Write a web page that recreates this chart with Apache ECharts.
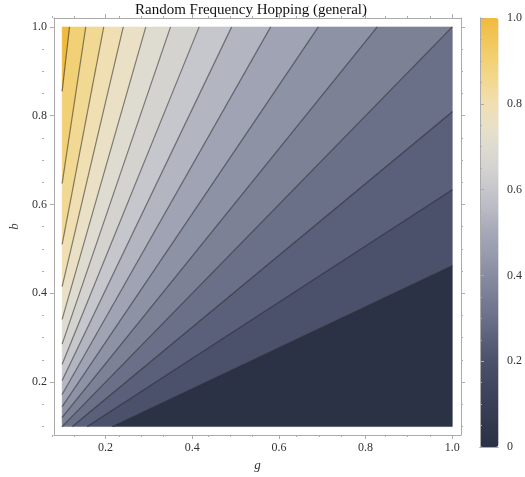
<!DOCTYPE html>
<html>
<head>
<meta charset="utf-8">
<script src="https://cdn.jsdelivr.net/npm/echarts@6/dist/echarts.min.js"></script>
<style>
  html, body { margin: 0; padding: 0; background: #fff; }
  #chart { width: 525px; height: 477px; }
</style>
</head>
<body>
<div id="chart"></div>
<script>
// contour lines are rays from the origin, read where they leave the plot
const contourTopG = [0.117, 0.1545, 0.196, 0.241, 0.293, 0.350, 0.416, 0.491, 0.581, 0.691, 0.827, 1.0]; // meet b = 1
const contourRightB = [0.809, 0.633, 0.462]; // meet g = 1
// shade value of each band, bottom (dark) to top-left (gold)
const bandLevels = [0, 0.2, 0.25, 0.3, 0.36, 0.42, 0.48, 0.54, 0.6, 0.65, 0.7, 0.75, 0.8, 0.85, 0.9, 1.0];

const axisMajor = [0.2, 0.4, 0.6, 0.8, 1.0];
const axisMinor = [0.1, 0.15, 0.25, 0.3, 0.35, 0.45, 0.5, 0.55, 0.65, 0.7, 0.75, 0.85, 0.9, 0.95];
const barMajor = [0, 0.2, 0.4, 0.6, 0.8, 1.0];
const barMinor = [0.05, 0.1, 0.15, 0.25, 0.3, 0.35, 0.45, 0.5, 0.55, 0.65, 0.7, 0.75, 0.85, 0.9, 0.95];

const gradient = [
    '#2c3245', '#32384c', '#393f55', '#42485f', '#4b516a', '#5a6079', '#6a7088',
    '#797e94', '#888ca0', '#979bac', '#a5a8b7', '#b7b9c3', '#c6c7cc', '#d4d3d0',
    '#dedbd0', '#e9e0c6', '#efdfb2', '#f2d993', '#f2d176', '#f1c65a', '#efbb3e'
];

const FONT = 'Liberation Serif';
const FRAME = '#ababab';
const plotMin = 0.081, plotMax = 1.020;
const PLOT = { left: 44, top: 18, width: 417, height: 417 };
const BAR = { left: 480, top: 18, width: 18.5, height: 429 };

// slopes b/g, ascending
const slopes = contourRightB.slice().sort((a, b) => a - b)
    .concat(contourTopG.map(g => 1 / g).sort((a, b) => a - b));

const bands = bandLevels.map((lv, k) => [
    k,
    k === 0 ? 0 : slopes[k - 1],
    k === slopes.length ? 1e6 : slopes[k],
    lv
]);

const contourLines = slopes.map(s => ({
    coords: s >= 1 ? [[0.1, 0.1 * s], [1 / s, 1]] : [[0.1 / s, 0.1], [1, s]]
}));

// keep the part of poly where f >= 0
function clip(poly, f) {
    const out = [];
    for (let i = 0; i < poly.length; i++) {
        const cur = poly[i], prev = poly[(i + poly.length - 1) % poly.length];
        const fc = f(cur), fp = f(prev);
        const cross = () => {
            const t = fp / (fp - fc);
            return [prev[0] + (cur[0] - prev[0]) * t, prev[1] + (cur[1] - prev[1]) * t];
        };
        if (fc >= 0) {
            if (fp < 0) out.push(cross());
            out.push(cur);
        } else if (fp >= 0) {
            out.push(cross());
        }
    }
    return out;
}

function renderBand(params, api) {
    const lo = api.value(1), hi = api.value(2);
    let poly = [[0.1, 0.1], [1, 0.1], [1, 1], [0.1, 1]];
    poly = clip(poly, p => p[1] - lo * p[0]);
    poly = clip(poly, p => hi * p[0] - p[1]);
    if (poly.length < 3) return null;
    return {
        type: 'polygon',
        shape: { points: poly.map(p => api.coord(p)) },
        style: { fill: api.visual('color'), stroke: api.visual('color'), lineWidth: 0.5 }
    };
}

const nameStyle = { fontFamily: FONT, fontSize: 13, fontStyle: 'italic', color: '#333' };

function frameAxis(grid, position, ticks, len, opts) {
    opts = opts || {};
    return Object.assign({
        type: 'value',
        gridIndex: grid,
        position: position,
        min: opts.min !== undefined ? opts.min : plotMin,
        max: opts.max !== undefined ? opts.max : plotMax,
        axisLine: { show: !!opts.line, lineStyle: { color: FRAME, width: 1 } },
        axisTick: { show: len > 0, length: len, customValues: ticks, lineStyle: { color: FRAME } },
        axisLabel: opts.labels ? {
            show: true, customValues: ticks, margin: opts.margin || 6,
            formatter: v => (v === 0 ? '0' : v.toFixed(1)),
            fontFamily: FONT, fontSize: 12, color: '#333'
        } : { show: false },
        splitLine: { show: false },
        z: opts.z || 2
    }, opts.extra || {});
}

const option = {
    animation: false,
    backgroundColor: '#fff',
    title: {
        text: 'Random Frequency Hopping (general)',
        left: 251,
        top: 3,
        padding: 0,
        textAlign: 'center',
        textStyle: { fontFamily: FONT, fontSize: 15, fontWeight: 'normal', color: '#111' }
    },
    grid: [
        Object.assign({}, PLOT),
        Object.assign({}, PLOT),
        Object.assign({}, BAR),
        Object.assign({}, BAR)
    ],
    xAxis: [
        frameAxis(0, 'bottom', axisMajor, 4, {
            line: true, labels: true, margin: 7,
            extra: { name: 'g', nameLocation: 'middle', nameGap: 24, nameTextStyle: nameStyle }
        }),
        frameAxis(0, 'top', axisMajor, 4, { line: true }),
        frameAxis(1, 'bottom', axisMinor, 2),
        frameAxis(1, 'top', axisMinor, 2),
        frameAxis(2, 'bottom', [], 0, { line: true, min: 0, max: 1, z: 10 }),
        frameAxis(2, 'top', [], 0, { line: true, min: 0, max: 1, z: 10 }),
        frameAxis(3, 'bottom', [], 0, { min: 0, max: 1 })
    ],
    yAxis: [
        frameAxis(0, 'left', axisMajor, 4, {
            line: true, labels: true, margin: 7,
            extra: { name: 'b', nameLocation: 'middle', nameGap: 31, nameRotate: 90, nameTextStyle: nameStyle }
        }),
        frameAxis(0, 'right', axisMajor, 4, { line: true }),
        frameAxis(1, 'left', axisMinor, 2),
        frameAxis(1, 'right', axisMinor, 2),
        frameAxis(2, 'left', [], 0, { line: true, min: 0, max: 1, z: 10 }),
        frameAxis(2, 'right', barMajor, 4, { line: true, labels: true, margin: 9, min: 0, max: 1, z: 10 }),
        frameAxis(3, 'right', barMinor, 2, { min: 0, max: 1, z: 10 })
    ],
    visualMap: {
        type: 'continuous',
        seriesIndex: 0,
        dimension: 3,
        min: 0,
        max: 1,
        orient: 'vertical',
        left: BAR.left,
        top: BAR.top,
        itemWidth: BAR.width,
        itemHeight: BAR.height,
        padding: 0,
        calculable: false,
        hoverLink: false,
        inRange: { color: gradient }
    },
    series: [
        {
            type: 'custom',
            xAxisIndex: 0,
            yAxisIndex: 0,
            silent: true,
            renderItem: renderBand,
            data: bands
        },
        {
            type: 'lines',
            coordinateSystem: 'cartesian2d',
            xAxisIndex: 0,
            yAxisIndex: 0,
            silent: true,
            z: 3,
            lineStyle: { color: 'rgba(20,20,25,0.5)', width: 1.2, opacity: 1 },
            data: contourLines
        }
    ]
};

const chart = echarts.init(document.getElementById('chart'));
chart.setOption(option);
</script>
</body>
</html>
